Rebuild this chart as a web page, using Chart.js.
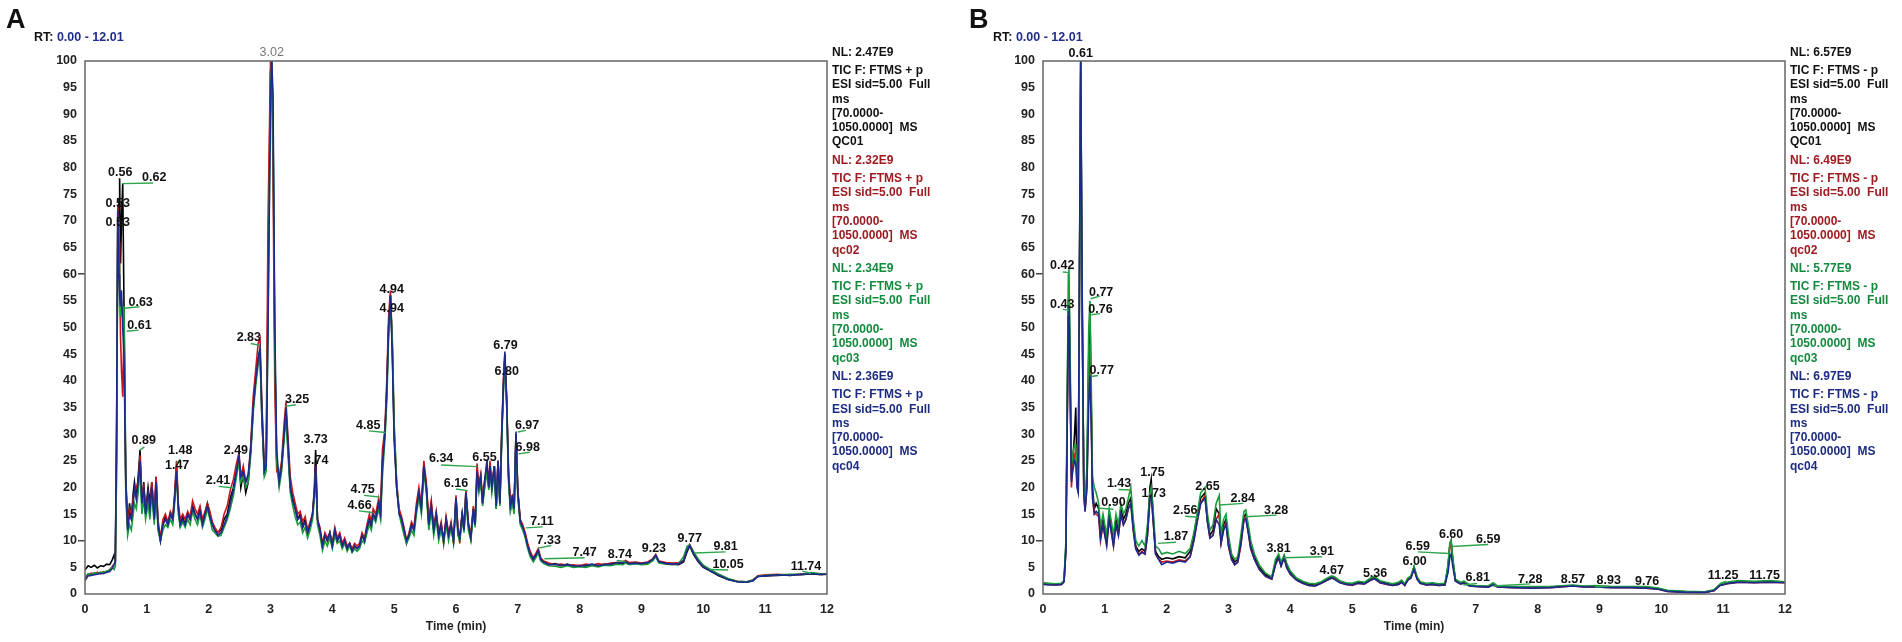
<!DOCTYPE html>
<html lang="en">
<head>
<meta charset="UTF-8">
<title>TIC chromatograms QC01-QC04</title>
<script src="https://cdn.jsdelivr.net/npm/chart.js"></script>
<style>
  body { margin: 0; background: #fff; width: 1902px; height: 642px; overflow: hidden; position: relative;
         font-family: 'Liberation Sans', Arial, Helvetica, sans-serif; }
  .panel { position: absolute; top: 0; width: 951px; height: 642px; }
  .panel canvas { position: absolute; left: 0; top: 0; }
  .letter { position: absolute; top: 6px; font-weight: bold; font-size: 27px; line-height: 27px; color: #111; }
  .rt { position: absolute; top: 29.7px; font-weight: bold; font-size: 12.5px; line-height: 14px; color: #111; }
  .rt span { color: #1f2d8f; }
  .nl { position: absolute; top: 44.7px; font-weight: bold; font-size: 12px; line-height: 14.3px; white-space: pre; }
  .nl .head { margin-bottom: 4px; }
  .nl .block { margin-bottom: 4px; }
</style>
</head>
<body>

<div class="panel" style="left:0">
  <canvas id="chartA" width="951" height="642"></canvas>
  <div class="letter" style="left:6px">A</div>
  <div class="rt" style="left:34px">RT: <span>0.00 - 12.01</span></div>
  <div class="nl" id="nlA" style="left:832px"></div>
</div>

<div class="panel" style="left:951px">
  <canvas id="chartB" width="951" height="642"></canvas>
  <div class="letter" style="left:18px">B</div>
  <div class="rt" style="left:42px">RT: <span>0.00 - 12.01</span></div>
  <div class="nl" id="nlB" style="left:839px"></div>
</div>

<script>
// ---- panel A (positive mode), relative abundance vs time (min)
const timeA = [
  0.00,0.05,0.10,0.15,0.20,0.25,0.30,0.35,0.40,0.44,
  0.47,0.49,0.51,0.53,0.55,0.56,0.575,0.59,0.61,0.63,
  0.66,0.69,0.72,0.75,0.78,0.80,0.83,0.86,0.89,0.92,
  0.95,0.98,1.02,1.05,1.08,1.12,1.15,1.18,1.22,1.26,
  1.30,1.34,1.38,1.42,1.45,1.48,1.51,1.54,1.58,1.62,
  1.66,1.70,1.74,1.78,1.82,1.86,1.90,1.94,1.98,2.02,
  2.06,2.10,2.15,2.20,2.25,2.30,2.35,2.40,2.45,2.49,
  2.52,2.56,2.60,2.64,2.68,2.72,2.76,2.80,2.83,2.86,
  2.90,2.93,2.96,3.00,3.02,3.04,3.07,3.10,3.14,3.18,
  3.22,3.25,3.28,3.32,3.36,3.40,3.44,3.48,3.52,3.56,
  3.60,3.64,3.68,3.71,3.73,3.76,3.80,3.84,3.88,3.92,
  3.96,4.00,4.04,4.08,4.12,4.16,4.20,4.24,4.28,4.32,
  4.36,4.40,4.44,4.48,4.52,4.56,4.60,4.63,4.66,4.70,
  4.75,4.78,4.81,4.85,4.88,4.91,4.94,4.97,5.00,5.04,
  5.08,5.12,5.16,5.20,5.24,5.28,5.32,5.36,5.40,5.44,
  5.48,5.52,5.56,5.60,5.64,5.68,5.72,5.76,5.80,5.84,
  5.88,5.92,5.96,6.00,6.03,6.06,6.10,6.13,6.16,6.20,
  6.24,6.28,6.31,6.34,6.37,6.40,6.43,6.46,6.50,6.53,
  6.55,6.58,6.62,6.65,6.68,6.71,6.74,6.77,6.79,6.82,
  6.85,6.88,6.91,6.94,6.97,7.00,7.04,7.08,7.12,7.16,
  7.20,7.25,7.30,7.33,7.37,7.42,7.50,7.60,7.70,7.80,
  7.90,8.00,8.10,8.20,8.30,8.40,8.50,8.60,8.70,8.74,
  8.80,8.90,9.00,9.10,9.18,9.23,9.28,9.40,9.50,9.60,
  9.68,9.74,9.78,9.84,9.92,10.00,10.10,10.25,10.40,10.55,
  10.70,10.80,10.88,11.00,11.20,11.40,11.60,11.74,11.90,12.00
];
const qc01A = [
  4.5,5.3,5.0,5.4,4.9,5.3,5.2,5.6,5.5,6.4,
  7.3,6.2,28,68,74,78,62,70,77,55,
  22,12.5,17,14,19,21,18,22,27,17,
  21,15.5,20,17,21,14,22,13,10,13,
  14.5,13,15,14,18,24,16,13,14.5,13,
  15,14,16.5,15,14,16,13,15,17,15,
  13,12,11.5,12,14,15,18,20,23,25,
  20,22.5,19,21,27,35,40,44,46,33,
  23,24,58,98,100,88,45,25,21,24,
  30,34,28,20,18,16,14,15,12.5,14,
  11.5,13,15,20,27,14,12,9,11,10,
  11.5,9,12,10,11,9,10,8.5,9.5,8,
  9,8.5,9,11,10,12,14,12.5,15,14,
  17,15,25,30,38,50,56,46,30,20,
  15.5,14,12,9.5,11,13,12,16,19,16,
  24,20,13,17,12,15,11,13,10,14,
  11,13,10,18,12,10.5,15,12,19,13,
  10.5,16,13,23,20,22,17,20,24,20,
  24,20,24,16,25,17,30,40,45,36,
  22,16,18,16,30,19,13.5,12.5,11,9,
  7.5,6.5,7.2,8,6.5,6,5.5,5.7,5.3,5.6,
  5.2,5.4,5.2,5.5,5.3,5.6,5.5,5.8,5.7,6.0,
  5.7,5.9,5.6,5.8,6.4,7.2,6.0,5.8,5.6,5.5,
  6.0,8.0,9.0,7.5,6.0,5.0,4.4,3.4,2.7,2.3,
  2.2,2.5,3.3,3.4,3.5,3.6,3.6,3.8,3.6,3.7
];
const qc02A = [
  3.0,3.6,3.9,3.7,4.1,3.8,4.2,4.0,4.6,5.1,
  5.6,5.8,24,73,66,60,48,42,37,50,
  20,13,16,15,18,19,20,21,26,18,
  20,16,19,16,21,15,22,14,10.5,14,
  15,13.5,15.5,14.5,19,25,17,14,15,14,
  15.5,14.5,17.5,16,15,16.5,14,15.5,17,15.5,
  13.5,12.5,11.5,12.5,15,16.5,19.5,21.5,24.5,26.5,
  22,24,21,22,28,37,42,47,48,36,
  24,26,70,100,97,80,38,23,22,25,
  32,36,30,22,19,17,15,15.5,13.5,14.5,
  12,13.5,15,19,24,14,12.5,9.5,11.5,10.5,
  11.5,9.5,12.5,10.5,11.5,9.5,10.5,9,9.5,8.5,
  9.5,9,9.5,11.5,10.5,13,15,13.5,16,15,
  18,16,27,31,40,52,57,47,31,21,
  16,14.5,12.5,10,11.5,13.5,12.5,17,20,16.5,
  25,21,14,17.5,12.5,15.5,11.5,13.5,9.5,14.5,
  11.5,13.5,9.5,18.5,12.5,9.5,15.5,12.5,19.5,13.5,
  11,16.5,13.5,24.5,20.5,22.5,17.5,21,24,21,
  25,20.5,24,17,25,17.5,31,41,44,37,
  23,18,18.5,17,30,19.5,14,13,11.5,9.5,
  8,6.8,7.8,8.5,6.8,6.2,5.8,5.5,5.6,5.4,
  5.5,5.3,5.6,5.4,5.7,5.5,5.8,5.9,6.0,6.3,
  5.9,6.0,5.8,6.0,6.6,7.4,6.2,5.9,5.8,5.9,
  6.3,8.5,9.3,7.8,6.2,5.2,4.5,3.6,2.8,2.4,
  2.3,2.6,3.4,3.6,3.7,3.5,3.8,3.9,3.7,3.8
];
const qc03A = [
  3.2,3.8,3.6,4.0,3.8,4.1,4.0,4.3,4.5,5.0,
  4.6,5.2,22,70,62,58,52,55,52,54,
  18,11,13,12,15,17,16,19,24,15,
  18,14,17,14,19,13,20,12,10,12,
  13,12.5,14,13,17,23,15,12.5,13.5,12.5,
  14,13,15.5,14,13,15,12.5,14,16,14,
  12,11.5,10.8,11,12.5,14,16,18.5,22,25,
  21,22,20,21,26,34,39,43,45,34,
  22,23,52,94,100,90,46,25,20,23,
  29,33,27,19,16.5,14.5,13,13.5,11.5,12.5,
  10.5,12,14,18,23,13,11,8.2,10,9,
  10.5,8.5,11,9.5,10,8.5,9.5,8,9,7.8,
  8.5,8,8.5,10,9.5,11.5,13,12,14.5,13.5,
  16,14,22,29,36,48,55,48,32,21,
  15,13,11,9.5,10.5,12,11,15,18,15,
  23,19,12,15.5,11,14,10,12,9.5,13,
  10,12.5,9.5,17,11,10,14,11.5,18,12,
  10,15,12.5,22,19,21,16.5,19.5,23,19.5,
  23,19,23,16,24,16.5,29,39,44,35,
  21,15.5,17,15,29,18,13,12,10.5,8.5,
  7,6,7,7.8,6.2,5.7,5.3,5.2,5.0,5.3,
  5.0,5.1,5.0,5.3,5.1,5.4,5.3,5.6,5.5,5.8,
  5.5,5.7,5.5,5.6,6.2,7.0,5.8,5.6,5.5,5.7,
  7.0,9.0,9.2,8.0,6.5,5.4,4.7,3.7,2.9,2.4,
  2.3,2.6,3.3,3.5,3.6,3.7,3.7,4.0,3.8,3.7
];
const qc04A = [
  2.5,3.4,3.5,3.6,3.7,3.9,3.8,4.1,4.2,4.8,
  5.5,6.0,30,72,60,56,54,57,50,45,
  21,12,15,14,17,20,18,21,25,17,
  20,15,19,16,20,14,21,13,10,13,
  14,13,15,14,18,23,16,13,14,13,
  15,14,16,15,14,15.5,13,15,16.5,14.5,
  13,12,11,11.5,13,14.5,17,19.5,23,26,
  22,23,21,22.5,27,35,40,44,46,35,
  23,24,50,92,100,94,50,27,21,24,
  30,35,29,20,17.5,16,14,14.5,12.5,13.5,
  11.5,13,15,19,24,14,12,9,11,10,
  11.5,9,12,10,11,9,10,8.5,9.5,8,
  9,8.5,9,11,10,12.5,14,13,15,14,
  17,15,24,30,38,50,56,45,29,20,
  15,14,12,10,11,13,12,16,19,16,
  24,20,13,16.5,12,15,11,13,10,14,
  11,13,10,18,12,10.5,15,12,19,13,
  10.5,16,13,23,20,22,17,21,25,20,
  24,20,24,16.5,25,17,30,40,45.5,36,
  22,16.5,18,16,30.5,19,13.5,12.5,11,9,
  7.5,6.5,7.5,8.2,6.5,6,5.5,5.6,5.4,5.5,
  5.3,5.2,5.4,5.6,5.3,5.5,5.6,5.9,5.8,6.1,
  5.7,5.8,5.7,5.9,6.5,7.3,6.1,5.7,5.6,5.6,
  6.2,8.3,9.1,7.6,6.1,5.1,4.4,3.5,2.7,2.3,
  2.2,2.5,3.3,3.4,3.6,3.5,3.7,3.8,3.7,3.7
];

// peak labels: text, time, level of the text baseline
const labelTextA  = ['3.02','0.56','0.62','0.53','0.53','0.63','0.61','0.89','1.48','1.47','2.49','2.41','2.83','3.25','3.73','3.74','4.85','4.75','4.66','4.94','4.94','6.34','6.16','6.55','6.79','6.80','6.97','6.98','7.11','7.33','7.47','8.74','9.23','9.77','9.81','10.05','11.74'];
const labelTimeA  = [3.02,0.57,1.12,0.53,0.53,0.90,0.88,0.95,1.54,1.49,2.44,2.15,2.65,3.43,3.73,3.74,4.58,4.49,4.44,4.96,4.96,5.76,6.00,6.46,6.80,6.82,7.15,7.16,7.39,7.50,8.08,8.65,9.20,9.78,10.36,10.40,11.66];
const labelLevelA = [101,78.5,77.5,72.7,69,54,49.7,28.2,26.3,23.4,26.3,20.6,47.4,35.9,28.3,24.3,30.9,18.9,16,56.4,53,24.7,20.1,24.9,46,41.1,30.9,26.8,13,9.3,7.1,6.8,7.8,9.7,8.2,4.8,4.5];
// leader lines from peak apex to label: [t1, v1, t2, v2]
const leadersA = [
  [0.60,77,1.10,77.1],[0.64,53.6,0.88,53.9],[0.675,49.3,0.865,49.5],[0.89,27,0.96,27.6],
  [1.48,24.5,1.54,25.3],[2.16,20.2,2.41,19.9],[2.68,47,2.81,46.7],[3.24,35.2,3.41,35.5],
  [4.59,30.6,4.86,30.3],[4.51,18.5,4.76,18.2],[4.43,15.6,4.65,15.3],[5.76,24.2,6.34,23.9],
  [6.00,19.7,6.19,19.4],[7.00,30.4,7.13,30.7],[7.01,26.3,7.19,26.6],[7.13,12.4,7.40,12.6],
  [7.33,8.6,7.54,9.1],[7.43,6.6,8.08,6.8],[8.60,6.3,8.74,6.1],[9.85,7.7,10.36,7.9],
  [10.10,4.6,10.40,4.5],[11.60,4.3,11.74,3.9]
];

// ---- panel B (negative mode)
const timeB = [
  0.00,0.10,0.20,0.30,0.34,0.37,0.39,0.41,0.42,0.44,
  0.46,0.48,0.51,0.53,0.55,0.57,0.59,0.61,0.63,0.66,
  0.68,0.71,0.74,0.76,0.78,0.80,0.83,0.86,0.90,0.93,
  0.97,1.00,1.03,1.07,1.10,1.14,1.18,1.22,1.26,1.30,
  1.34,1.38,1.42,1.46,1.50,1.55,1.60,1.65,1.69,1.73,
  1.75,1.78,1.82,1.87,1.92,2.00,2.10,2.20,2.30,2.38,
  2.44,2.50,2.55,2.62,2.66,2.70,2.75,2.80,2.85,2.88,
  2.92,2.96,3.00,3.05,3.10,3.15,3.20,3.25,3.28,3.32,
  3.36,3.42,3.50,3.60,3.70,3.76,3.81,3.85,3.90,3.94,
  4.00,4.10,4.20,4.30,4.40,4.50,4.60,4.67,4.72,4.80,
  4.90,5.00,5.10,5.20,5.30,5.36,5.45,5.55,5.65,5.75,
  5.80,5.85,5.90,5.95,6.00,6.05,6.10,6.20,6.30,6.40,
  6.50,6.55,6.58,6.60,6.63,6.67,6.75,6.81,6.90,7.00,
  7.20,7.28,7.35,7.60,7.90,8.20,8.57,8.75,8.93,9.20,
  9.50,9.76,9.95,10.10,10.40,10.70,10.85,10.95,11.10,11.25,
  11.50,11.75,12.00
];
const qc01B = [
  2.0,1.9,1.8,1.9,2.4,9,32,55,58,40,
  22,25,30,35,22,20,60,100,60,20,
  16,22,45,52,36,20,16,17,16,11,
  14,12,10,15,13,10,14,12,16,14,
  15,17,18,13,9,8,8.5,8,12,20,
  21.5,15,8,7,6.5,6.8,6.6,7,6.8,8,
  11,15,18,19,14,11,12,16,15,10,
  13,14,10,7,6,6.5,10,14.5,15,12,
  9,7,5,3.6,3,6,7.2,5.5,7.2,5.5,
  4,2.8,2.2,1.8,1.7,2.1,2.8,3.2,2.9,2.3,
  1.9,1.8,2.2,2,2.8,3.1,2.3,2,1.7,2,
  2.4,1.7,2.8,3.2,5,3,2.1,1.8,1.9,1.7,
  1.8,5,9.3,10,6,2.6,2,2.2,1.6,1.5,
  1.4,1.9,1.4,1.3,1.2,1.3,1.6,1.4,1.4,1.3,
  1.3,1.2,1.0,0.6,0.4,0.3,0.7,1.7,2.1,2.3,
  2.2,2.3,2.2
];
const qc02B = [
  1.9,1.8,1.7,1.8,2.3,8,30,52,54,38,
  20,24,26,27,21,19,58,100,58,19,
  15.5,20,40,47,34,19,15,15,14.5,10,
  13,11,9.5,14,12,9,13,11,15,13,
  14,16,17,12,8.5,7.5,8,7.5,11,18,
  19,14,7.5,6.5,6,6.2,6,6.4,6.2,7,
  10,14,17,18.5,13.5,10.5,11,14,15,9.5,
  12,13.5,9,6.5,5.5,6,9,14,14.5,11.5,
  8.5,6.5,4.6,3.3,2.8,5.5,6.8,5.3,6.8,5,
  3.7,2.6,2,1.6,1.5,2,2.6,3,2.8,2.2,
  1.8,1.6,2,1.9,2.6,2.9,2.1,1.8,1.6,1.8,
  2.2,1.6,2.6,3,4.8,2.8,2,1.7,1.8,1.6,
  1.7,5,9,9.8,6,2.5,1.9,2.1,1.5,1.4,
  1.3,1.8,1.3,1.2,1.2,1.2,1.5,1.3,1.3,1.2,
  1.2,1.1,0.9,0.5,0.3,0.3,0.6,1.6,2,2.2,
  2.1,2.2,2.1
];
const qc03B = [
  2.1,2.0,1.9,2.0,2.6,10,36,60,61,44,
  24,26,28,28,22,20,56,100,57,21,
  17,24,50,55,40,22,20,19,17,12.5,
  15,13,11,16,14,11,15,13,17,15,
  16,18,20,14,10,9,10,9,13,19,
  20,16,9,8.5,7.5,7.8,7.5,8,7.6,8.5,
  11.5,15.5,19,20,15,12,13,17,18.5,11,
  14,15,11,7.5,6.5,7,11,15.5,15.8,13,
  10,7.5,5.4,3.9,3.2,6.5,7.5,6,7.3,5.8,
  4.3,3,2.4,2,1.9,2.3,3,3.4,3.2,2.5,
  2.1,2,2.4,2.2,3,3.3,2.5,2.2,1.9,2.2,
  2.6,1.9,3,3.4,5.2,3.2,2.3,2,2.1,1.9,
  2,5.5,9.6,10,6.5,2.8,2.2,2.4,1.7,1.6,
  1.5,2.1,1.5,1.4,1.4,1.4,1.7,1.5,1.6,1.4,
  1.4,1.4,1.1,0.7,0.5,0.4,0.8,1.9,2.3,2.5,
  2.4,2.5,2.3
];
const qc04B = [
  1.8,1.7,1.7,1.8,2.3,8,30,52,54,38,
  21,23,25,24.5,20,19,62,100,62,19,
  15.5,20,36,41,32,18,15,15.5,15,10.5,
  13,11,9,14,12,9,13,11,15,13,
  14,16,17,12,8.5,7.3,7.8,7.5,11,18,
  18.5,14,7.5,6.5,5.5,6,5.8,6.2,6,7,
  10,14,17,18,13.5,10.5,11,14,13,9.5,
  12,13,9,6.5,5.5,6,9.5,14,14,11.5,
  8.5,6.5,4.6,3.3,2.8,5.5,6.8,5.2,6.8,5,
  3.7,2.6,2,1.6,1.5,2,2.6,3,2.7,2.1,
  1.8,1.7,2,1.9,2.6,2.9,2.1,1.9,1.6,1.8,
  2.2,1.6,2.6,3,4.6,2.8,2,1.7,1.8,1.6,
  1.7,4,7,7.5,5,2.4,1.9,2,1.5,1.4,
  1.3,1.7,1.3,1.2,1.1,1.2,1.5,1.3,1.3,1.2,
  1.2,1.1,0.9,0.5,0.3,0.3,0.6,1.6,2,2.2,
  2.1,2.2,2.1
];

const labelTextB  = ['0.61','0.42','0.43','0.77','0.76','0.77','0.90','1.43','1.75','1.73','1.87','2.56','2.65','2.84','3.28','3.81','3.91','4.67','5.36','6.00','6.59','6.60','6.59','6.81','7.28','8.57','8.93','9.76','11.25','11.75'];
const labelTimeB  = [0.61,0.31,0.31,0.94,0.93,0.95,1.14,1.23,1.77,1.79,2.15,2.30,2.66,3.23,3.77,3.81,4.51,4.67,5.37,6.01,6.06,6.60,7.20,7.03,7.88,8.57,9.15,9.77,11.00,11.67];
const labelLevelB = [100.8,60.9,53.75,56,52.75,41.2,16.5,20,22.2,18.25,10.1,15.1,19.5,17.3,15.1,7.9,7.3,3.75,3.25,5.4,8.25,10.6,9.6,2.5,2.1,2.0,1.8,1.7,2.75,2.9];
const leadersB = [
  [0.32,60.4,0.43,60.3],[0.32,53.4,0.42,53.25],[0.77,55.4,0.92,55.9],[0.78,52.4,0.92,52.6],
  [0.78,40.8,0.89,41],[0.92,16.1,1.14,15.9],[1.22,19.6,1.42,19.5],[1.86,9.5,2.15,9.7],
  [2.30,14.6,2.51,14.4],[2.86,16.7,3.24,17],[3.27,14.5,3.78,14.8],[3.89,6.8,4.51,7.0],
  [6.06,7.9,6.57,7.6],[6.61,8.9,7.20,9.3],[6.80,1.7,7.02,2.0],[7.28,1.5,7.88,1.9],
  [8.93,1.3,9.15,1.5],[10.95,2.0,11.05,2.4]
];

// legend text
const sampleNames = ['QC01', 'qc02', 'qc03', 'qc04'];
const nlValuesA = ['2.47E9', '2.32E9', '2.34E9', '2.36E9'];
const nlValuesB = ['6.57E9', '6.49E9', '5.77E9', '6.97E9'];

const traceColors  = ['#000000', '#c8161d', '#1a9b3c', '#1b2a8c'];
const legendColors = ['#111111', '#9d1b21', '#138a3e', '#1d2b82'];
const FONT = "'Liberation Sans', Arial, Helvetica, sans-serif";
Chart.defaults.font.family = FONT;

// draws plot frame, green leader lines and peak labels
const peakLabelPlugin = {
  id: 'peakLabels',
  afterDatasetsDraw(chart, args, opts) {
    const { ctx, chartArea: a } = chart;
    const x = chart.scales.x, y = chart.scales.y;
    ctx.save();
    ctx.strokeStyle = '#2fa64d';
    ctx.lineWidth = 1.4;
    opts.leaders.forEach(l => {
      ctx.beginPath();
      ctx.moveTo(x.getPixelForValue(l[0]), y.getPixelForValue(l[1]));
      ctx.lineTo(x.getPixelForValue(l[2]), y.getPixelForValue(l[3]));
      ctx.stroke();
    });
    ctx.textAlign = 'center';
    ctx.textBaseline = 'alphabetic';
    opts.text.forEach((t, i) => {
      const above = opts.level[i] > 100;
      ctx.font = (above && opts.mutedTop ? '' : 'bold ') + '12.5px ' + FONT;
      ctx.fillStyle = above && opts.mutedTop ? '#777777' : '#111111';
      ctx.fillText(t, x.getPixelForValue(opts.time[i]), y.getPixelForValue(opts.level[i]));
    });
    ctx.strokeStyle = '#666666';
    ctx.lineWidth = 1.5;
    ctx.strokeRect(a.left, a.top, a.right - a.left, a.bottom - a.top);
    ctx.restore();
  }
};

function buildChart(id, times, series, text, time, level, leaders, axisLeft, padRight, mutedTop) {
  const tickFont = { size: 12.5, weight: 'bold' };
  return new Chart(document.getElementById(id), {
    type: 'line',
    data: {
      datasets: series.map((vals, i) => ({
        label: sampleNames[i],
        data: times.map((t, k) => ({ x: t, y: vals[k] })),
        borderColor: traceColors[i],
        borderWidth: 1.6,
        pointRadius: 0,
        tension: 0,
        fill: false,
        order: 4 - i
      }))
    },
    options: {
      responsive: false,
      animation: false,
      layout: { padding: { top: 61, right: padRight, left: 0, bottom: 0 } },
      plugins: {
        legend: { display: false },
        tooltip: { enabled: false },
        peakLabels: { text, time, level, leaders, mutedTop }
      },
      scales: {
        x: {
          type: 'linear', min: 0, max: 12,
          afterFit: s => { s.height = 48; },
          ticks: { stepSize: 1, padding: 8, color: '#222', font: tickFont },
          grid: { display: false, drawTicks: false },
          border: { display: false },
          title: { display: true, text: 'Time (min)', color: '#222',
                   font: { size: 12, weight: 'bold' }, padding: { top: 0, bottom: 8 } }
        },
        y: {
          min: 0, max: 100,
          afterFit: s => { s.width = axisLeft; },
          ticks: { stepSize: 5, padding: 1, autoSkip: false, color: '#222', font: tickFont },
          grid: {
            drawOnChartArea: false, drawTicks: true, tickLength: 7, lineWidth: 1.5,
            tickColor: c => (c.tick && (c.tick.value === 10 || c.tick.value === 60)) ? '#444' : 'rgba(0,0,0,0)'
          },
          border: { display: false }
        }
      }
    },
    plugins: [peakLabelPlugin]
  });
}

function buildLegend(id, nlValues, polarity) {
  const box = document.getElementById(id);
  nlValues.forEach((v, i) => {
    const block = document.createElement('div');
    block.className = 'block';
    block.style.color = legendColors[i];
    const head = document.createElement('div');
    head.className = 'head';
    head.textContent = 'NL: ' + v;
    const body = document.createElement('div');
    body.textContent = 'TIC F: FTMS ' + polarity + ' p\nESI sid=5.00  Full\nms\n[70.0000-\n1050.0000]  MS\n' + sampleNames[i];
    block.appendChild(head);
    block.appendChild(body);
    box.appendChild(block);
  });
}

buildChart('chartA', timeA, [qc01A, qc02A, qc03A, qc04A], labelTextA, labelTimeA, labelLevelA, leadersA, 85, 124, true);
buildChart('chartB', timeB, [qc01B, qc02B, qc03B, qc04B], labelTextB, labelTimeB, labelLevelB, leadersB, 92, 117, false);
buildLegend('nlA', nlValuesA, '+');
buildLegend('nlB', nlValuesB, '-');
</script>
</body>
</html>
